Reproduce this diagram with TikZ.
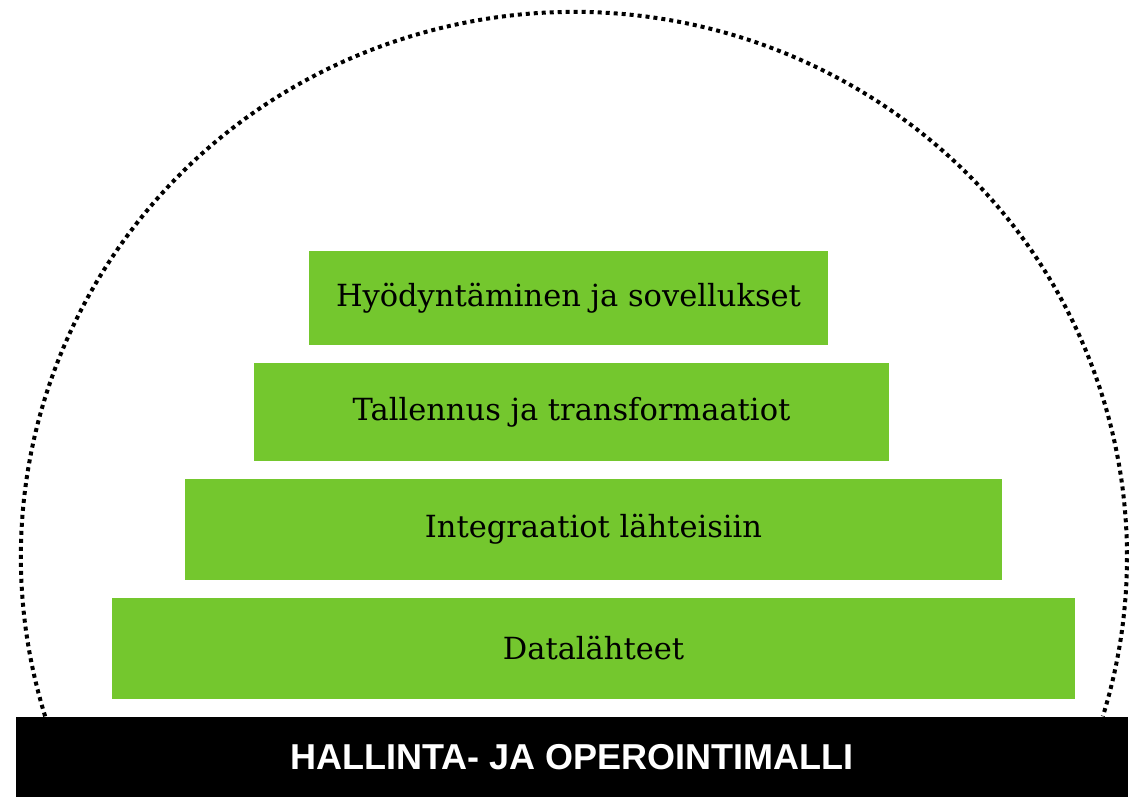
\documentclass[tikz,border=0pt]{standalone}
\usepackage{fontspec}
\setmainfont{DejaVu Serif}
\newfontfamily\barfont{Liberation Sans}
\definecolor{lgreen}{HTML}{74C72E}
\begin{document}
\begin{tikzpicture}[x=1pt,y=-1pt,
  layer/.style={fill=lgreen, draw=none, inner sep=0pt, font=\fontsize{30.5}{34}\selectfont, text=black},
  govbar/.style={fill=black, draw=none, inner sep=0pt, text=white, font=\barfont\bfseries\fontsize{36}{40}\selectfont},
  dotarc/.style={line width=4pt, dash pattern=on 4pt off 4pt}]
\useasboundingbox (0,0) rectangle (1137,796);
\draw[dotarc] (574,557) ++(163:553 and 545) arc[start angle=163, end angle=377, x radius=553, y radius=545];
\node[layer, minimum width=519pt, minimum height=94pt] (l1) at (568.5,298) {Hyödyntäminen ja sovellukset};
\node[layer, minimum width=635pt, minimum height=98pt] (l2) at (571.5,412) {Tallennus ja transformaatiot};
\node[layer, minimum width=817pt, minimum height=101pt] (l3) at (593.5,529.5) {Integraatiot lähteisiin};
\node[layer, minimum width=963pt, minimum height=101pt] (l4) at (593.5,648.5) {Datalähteet};
\node[govbar, minimum width=1112pt, minimum height=80pt] (bar) at (572,757) {HALLINTA- JA OPEROINTIMALLI};
\end{tikzpicture}
\end{document}
